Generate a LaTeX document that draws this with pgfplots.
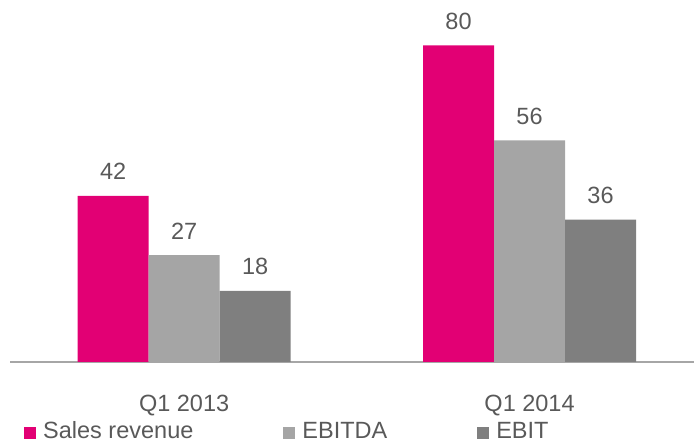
\documentclass[border=0pt]{standalone}
\usepackage{fontspec}
\setmainfont{Liberation Sans}
\usepackage{pgfplots}
\pgfplotsset{compat=1.18}
\definecolor{tmagenta}{HTML}{E20074}
\definecolor{lgray}{HTML}{A5A5A5}
\definecolor{dgray}{HTML}{7F7F7F}
\definecolor{txt}{HTML}{595959}
\definecolor{axisgray}{HTML}{A6A6A6}
\begin{document}
\begin{tikzpicture}
\begin{axis}[
    at={(0pt,0pt)}, anchor=south west,
    scale only axis,
    width=684pt, height=362pt,
    ybar=0pt, bar width=71pt,
    xmin=-0.504, xmax=1.476,
    ymin=0, ymax=91.5,
    enlargelimits=false,
    clip=false,
    axis x line*=bottom,
    axis y line=none,
    x axis line style={draw=axisgray, line width=1.5pt, -},
    xtick={0,1},
    xticklabels={Q1 2013, Q1 2014},
    xtick style={draw=none},
    ytick=\empty,
    xticklabel style={anchor=base, yshift=-45pt, text=txt, font=\fontsize{23.5}{28}\selectfont},
    nodes near coords,
    /pgf/number format/assume math mode=true,
    every node near coord/.append style={anchor=base, yshift=16pt, text=txt, font=\fontsize{23.5}{28}\selectfont},
    legend columns=3,
    legend style={draw=none, fill=none, at={(14pt,-78pt)}, anchor=south west,
        font=\fontsize{23.5}{28}\selectfont, text=txt,
        inner sep=0pt,
        nodes={inner sep=0pt, anchor=base west},
        /tikz/every odd column/.append style={column sep=7pt},
        /tikz/every even column/.append style={column sep=90pt}},
]
\addplot[fill=tmagenta, draw=none, legend image code/.code={\fill[tmagenta] (0pt,-1pt) rectangle (12pt,11pt);}]
    coordinates {(0,42) (1,80)};
\addplot[fill=lgray, draw=none, legend image code/.code={\fill[lgray] (0pt,-1pt) rectangle (12pt,11pt);}]
    coordinates {(0,27) (1,56)};
\addplot[fill=dgray, draw=none, legend image code/.code={\fill[dgray] (0pt,-1pt) rectangle (12pt,11pt);}]
    coordinates {(0,18) (1,36)};
\legend{Sales revenue, EBITDA, EBIT}
\end{axis}
\pgfresetboundingbox
\path[use as bounding box] (-10pt,-85pt) rectangle (684pt,362pt);
\end{tikzpicture}
\end{document}
